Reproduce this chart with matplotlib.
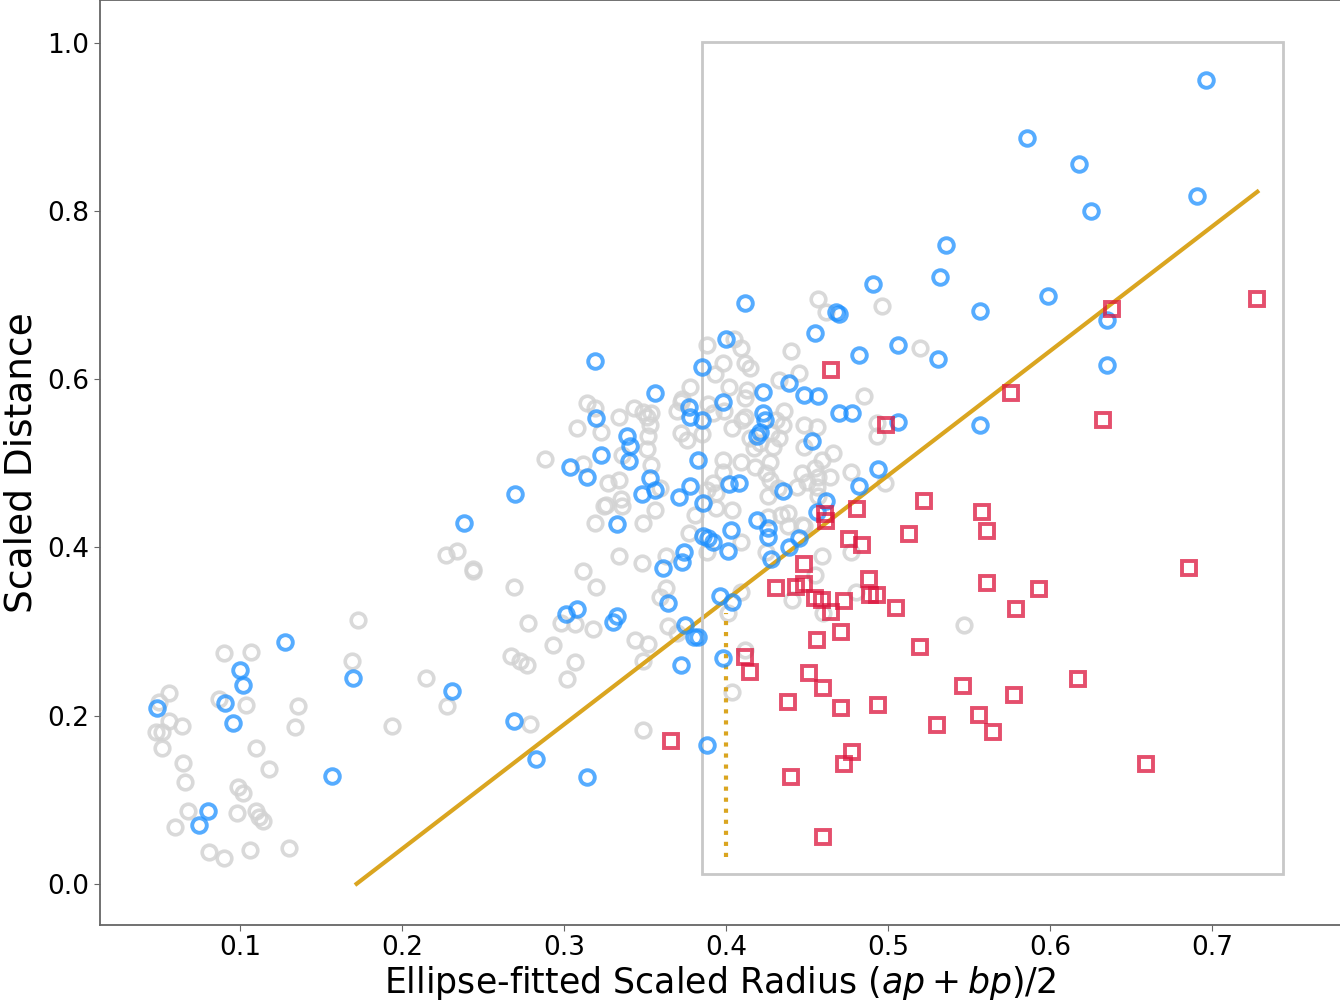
import matplotlib
matplotlib.use('Agg')
import matplotlib.pyplot as plt
from matplotlib.patches import Rectangle

# other samples (gray)
gray_x = [0.173, 0.090, 0.107, 0.169, 0.215, 0.056, 0.050, 0.087, 0.104, 0.136,
          0.056, 0.064, 0.134, 0.194, 0.048, 0.052, 0.052, 0.110, 0.065, 0.118,
          0.066, 0.099, 0.102, 0.068, 0.098, 0.110, 0.112, 0.114, 0.060, 0.081,
          0.090, 0.106, 0.130, 0.228, 0.227, 0.234, 0.244, 0.244, 0.269, 0.319,
          0.325, 0.312, 0.320, 0.278, 0.298, 0.307, 0.318, 0.293, 0.267, 0.273,
          0.277, 0.307, 0.302, 0.279, 0.288, 0.314, 0.319, 0.308, 0.323, 0.334,
          0.343, 0.349, 0.354, 0.351, 0.353, 0.352, 0.351, 0.336, 0.312, 0.354,
          0.327, 0.334, 0.335, 0.336, 0.326, 0.359, 0.356, 0.349, 0.372, 0.378,
          0.370, 0.372, 0.376, 0.381, 0.377, 0.334, 0.348, 0.363, 0.388, 0.457,
          0.462, 0.496, 0.405, 0.409, 0.440, 0.398, 0.412, 0.415, 0.393, 0.445,
          0.433, 0.402, 0.413, 0.485, 0.373, 0.389, 0.392, 0.399, 0.412, 0.412,
          0.431, 0.436, 0.448, 0.456, 0.493, 0.493, 0.435, 0.404, 0.410, 0.385,
          0.415, 0.421, 0.428, 0.433, 0.429, 0.448, 0.417, 0.466, 0.459, 0.398,
          0.409, 0.427, 0.418, 0.455, 0.477, 0.447, 0.398, 0.425, 0.457, 0.464,
          0.392, 0.427, 0.444, 0.450, 0.456, 0.432, 0.498, 0.388, 0.394, 0.426,
          0.457, 0.404, 0.426, 0.438, 0.394, 0.409, 0.388, 0.425, 0.434, 0.438,
          0.448, 0.363, 0.359, 0.409, 0.441, 0.401, 0.364, 0.344, 0.352, 0.349,
          0.412, 0.404, 0.349, 0.370, 0.547, 0.480, 0.459, 0.477, 0.455, 0.460,
          0.447, 0.520]
gray_y = [0.314, 0.275, 0.276, 0.265, 0.245, 0.227, 0.216, 0.220, 0.213, 0.212,
          0.194, 0.188, 0.187, 0.188, 0.180, 0.180, 0.162, 0.161, 0.144, 0.136,
          0.121, 0.115, 0.108, 0.087, 0.084, 0.087, 0.080, 0.075, 0.067, 0.038,
          0.031, 0.040, 0.042, 0.212, 0.391, 0.396, 0.372, 0.374, 0.353, 0.429,
          0.449, 0.372, 0.353, 0.310, 0.310, 0.309, 0.303, 0.284, 0.271, 0.265,
          0.260, 0.264, 0.244, 0.190, 0.505, 0.572, 0.566, 0.542, 0.537, 0.555,
          0.566, 0.561, 0.560, 0.555, 0.546, 0.533, 0.517, 0.510, 0.499, 0.498,
          0.477, 0.480, 0.457, 0.449, 0.451, 0.471, 0.445, 0.429, 0.573, 0.591,
          0.562, 0.536, 0.528, 0.438, 0.417, 0.390, 0.382, 0.390, 0.641, 0.696,
          0.680, 0.687, 0.648, 0.637, 0.633, 0.619, 0.619, 0.613, 0.606, 0.607,
          0.599, 0.591, 0.587, 0.580, 0.577, 0.570, 0.560, 0.562, 0.578, 0.555,
          0.552, 0.562, 0.545, 0.543, 0.548, 0.532, 0.546, 0.542, 0.552, 0.535,
          0.530, 0.524, 0.537, 0.530, 0.520, 0.520, 0.518, 0.512, 0.504, 0.504,
          0.501, 0.502, 0.496, 0.495, 0.490, 0.489, 0.490, 0.489, 0.484, 0.484,
          0.477, 0.480, 0.472, 0.478, 0.472, 0.471, 0.477, 0.468, 0.465, 0.461,
          0.461, 0.445, 0.436, 0.441, 0.447, 0.407, 0.395, 0.395, 0.439, 0.425,
          0.426, 0.352, 0.341, 0.347, 0.338, 0.322, 0.307, 0.290, 0.285, 0.265,
          0.278, 0.228, 0.183, 0.298, 0.308, 0.347, 0.390, 0.394, 0.367, 0.322,
          0.427, 0.637]

# blue circles
blue_x = [0.049, 0.091, 0.096, 0.100, 0.102, 0.080, 0.075, 0.128, 0.170, 0.157,
          0.231, 0.238, 0.270, 0.269, 0.283, 0.314, 0.319, 0.301, 0.308, 0.356,
          0.385, 0.320, 0.377, 0.378, 0.385, 0.339, 0.341, 0.323, 0.340, 0.383,
          0.304, 0.314, 0.353, 0.356, 0.348, 0.371, 0.378, 0.386, 0.333, 0.386,
          0.374, 0.373, 0.361, 0.412, 0.491, 0.468, 0.470, 0.455, 0.506, 0.482,
          0.400, 0.439, 0.423, 0.448, 0.457, 0.398, 0.423, 0.424, 0.470, 0.478,
          0.506, 0.421, 0.419, 0.453, 0.494, 0.482, 0.402, 0.408, 0.435, 0.462,
          0.456, 0.419, 0.389, 0.392, 0.403, 0.401, 0.426, 0.426, 0.439, 0.445,
          0.428, 0.364, 0.396, 0.404, 0.330, 0.333, 0.375, 0.380, 0.383, 0.398,
          0.372, 0.388, 0.536, 0.532, 0.599, 0.557, 0.635, 0.531, 0.635, 0.557,
          0.586, 0.618, 0.625, 0.696, 0.691]
blue_y = [0.209, 0.215, 0.191, 0.254, 0.237, 0.086, 0.070, 0.287, 0.245, 0.128,
          0.229, 0.429, 0.464, 0.194, 0.149, 0.127, 0.622, 0.321, 0.327, 0.584,
          0.615, 0.554, 0.567, 0.555, 0.551, 0.532, 0.521, 0.510, 0.503, 0.504,
          0.496, 0.484, 0.483, 0.468, 0.463, 0.460, 0.473, 0.453, 0.428, 0.414,
          0.395, 0.383, 0.375, 0.691, 0.713, 0.680, 0.677, 0.655, 0.641, 0.629,
          0.648, 0.596, 0.585, 0.581, 0.580, 0.573, 0.560, 0.552, 0.560, 0.560,
          0.549, 0.537, 0.533, 0.526, 0.493, 0.473, 0.476, 0.477, 0.467, 0.455,
          0.442, 0.433, 0.411, 0.407, 0.421, 0.396, 0.423, 0.413, 0.401, 0.411,
          0.386, 0.334, 0.342, 0.335, 0.311, 0.319, 0.308, 0.294, 0.293, 0.268,
          0.260, 0.165, 0.760, 0.721, 0.699, 0.681, 0.671, 0.624, 0.617, 0.545,
          0.887, 0.856, 0.800, 0.956, 0.818]

# red squares
red_x = [0.522, 0.558, 0.561, 0.513, 0.481, 0.461, 0.462, 0.476, 0.484, 0.448,
         0.488, 0.489, 0.493, 0.505, 0.431, 0.443, 0.448, 0.455, 0.459, 0.465,
         0.473, 0.561, 0.593, 0.579, 0.456, 0.471, 0.520, 0.412, 0.415, 0.451,
         0.460, 0.438, 0.471, 0.494, 0.546, 0.578, 0.556, 0.530, 0.565, 0.478,
         0.473, 0.440, 0.460, 0.465, 0.499, 0.576, 0.633, 0.638, 0.728, 0.686,
         0.617, 0.659, 0.366]
red_y = [0.455, 0.442, 0.419, 0.416, 0.446, 0.440, 0.432, 0.410, 0.403, 0.380,
         0.363, 0.344, 0.344, 0.328, 0.352, 0.353, 0.356, 0.340, 0.337, 0.323,
         0.336, 0.358, 0.351, 0.327, 0.290, 0.300, 0.281, 0.270, 0.252, 0.251,
         0.233, 0.216, 0.209, 0.213, 0.235, 0.225, 0.201, 0.189, 0.180, 0.157,
         0.143, 0.127, 0.056, 0.611, 0.545, 0.584, 0.551, 0.683, 0.696, 0.376,
         0.244, 0.143, 0.170]

# fitted line, box and threshold
line_x = [0.172, 0.728]
line_y = [0.0, 0.823]
box_x0, box_x1 = 0.385, 0.744
box_y0, box_y1 = 0.012, 1.001
thr_x = 0.40
thr_y = [0.032, 0.322]

fig = plt.figure(figsize=(13.4, 10), dpi=100)
ax = fig.add_axes([100 / 1340, 0.075, 1 - 100 / 1340, 0.925])

ax.plot(gray_x, gray_y, 'o', ms=10.5, mfc='none', mec='#d3d3d3', mew=2.6, alpha=0.85, zorder=1)
ax.plot(line_x, line_y, '-', color='goldenrod', lw=3, zorder=2)
ax.plot([thr_x, thr_x], thr_y, ':', color='goldenrod', lw=3, zorder=2)
ax.add_patch(Rectangle((box_x0, box_y0), box_x1 - box_x0, box_y1 - box_y0,
                       fill=False, ec='#c8c8c8', lw=2, zorder=2))
ax.plot(blue_x, blue_y, 'o', ms=10.5, mfc='none', mec='dodgerblue', mew=2.8, alpha=0.75, zorder=3)
ax.plot(red_x, red_y, 's', ms=10, mfc='none', mec='crimson', mew=2.8, alpha=0.75, zorder=4)

ax.set_xlim(0.0136, 0.779)
ax.set_ylim(-0.049, 1.051)
ax.set_xticks([0.1, 0.2, 0.3, 0.4, 0.5, 0.6, 0.7])
ax.set_yticks([0.0, 0.2, 0.4, 0.6, 0.8, 1.0])
ax.tick_params(labelsize=19, length=4, color='#666666')
for s in ['left', 'bottom', 'top']:
    ax.spines[s].set_color('#666666')
    ax.spines[s].set_linewidth(1.3)
ax.spines['right'].set_visible(False)

ax.set_xlabel(r'Ellipse-fitted Scaled Radius $(ap+bp)/2$', fontsize=25, labelpad=2)
ax.set_ylabel('Scaled Distance', fontsize=27, labelpad=6)

fig.savefig('out.png', dpi=100)
